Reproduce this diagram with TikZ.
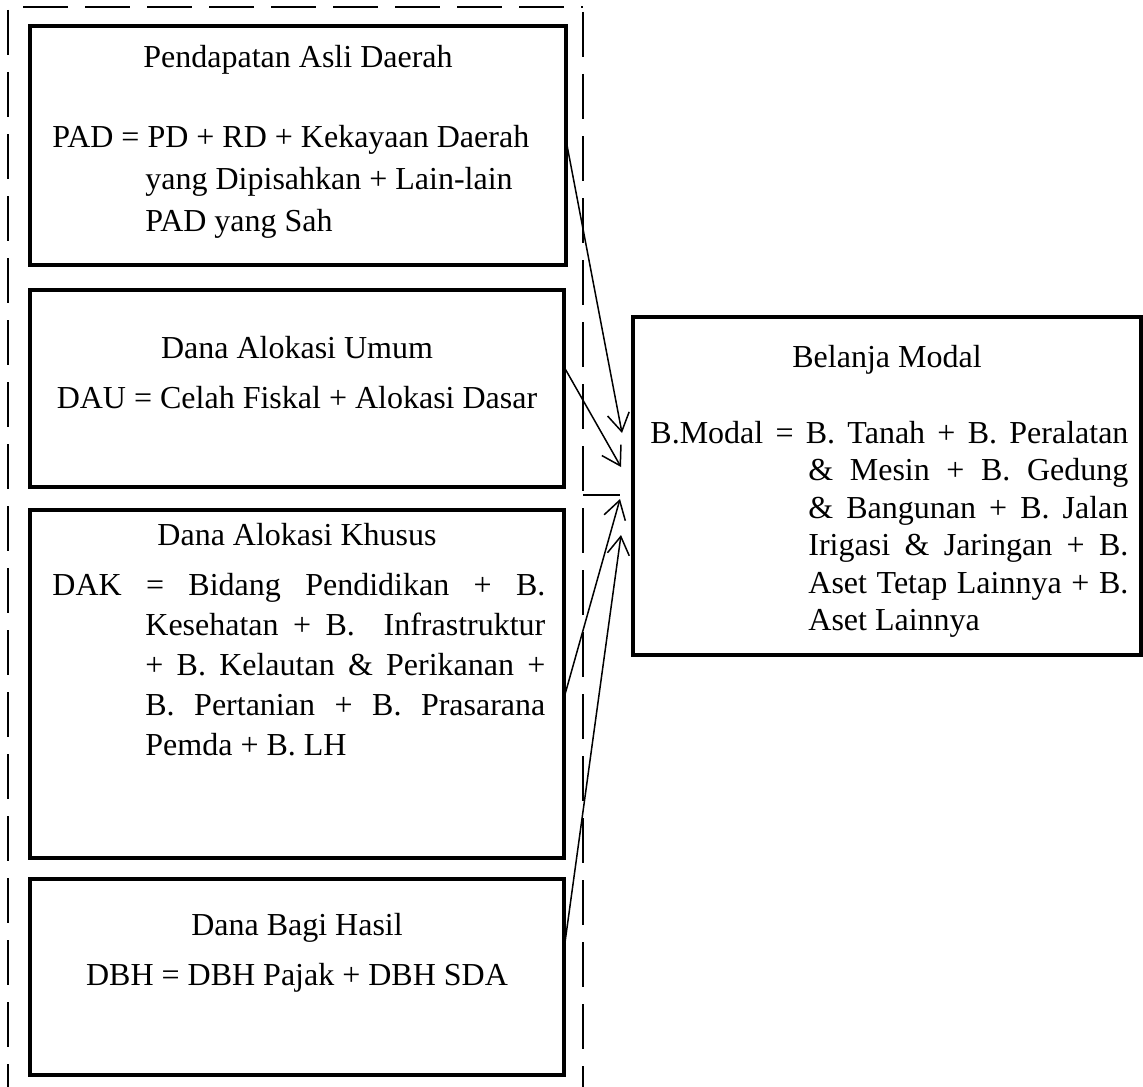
\documentclass[tikz,border=0pt]{standalone}
\usepackage{fontspec}
\setmainfont{Liberation Serif}
\usetikzlibrary{arrows.meta,calc}
\begin{document}
\begin{tikzpicture}[x=0.5pt,y=-0.5pt,
  box/.style={draw, line width=2pt, rectangle, inner sep=0pt, outer sep=0pt},
  lbl/.style={inner sep=0pt, anchor=base, font=\fontsize{16}{19.5}\selectfont},
  para/.style={inner sep=0pt, anchor=base west, font=\fontsize{16}{20}\selectfont},
  conn/.style={line width=0.75pt, -{Straight Barb[length=9pt,width=11pt,line width=0.75pt]}},
  thinline/.style={line width=0.75pt},
  frame/.style={line width=0.75pt, dash pattern=on 22.5pt off 8.5pt}]
\useasboundingbox (0,0) rectangle (1143,1086);
% dashed group frame
\begin{scope}
\clip (0,0) rectangle (1143,1086);
\draw[frame] (23,7) -- (583,7);
\draw[frame] (8,10) -- (8,1100);
\draw[frame] (583,12) -- (583,1100);
\end{scope}
% boxes
\node[box, minimum width=268pt, minimum height=119.5pt] (pad) at (298,145.5) {};
\node[box, minimum width=267pt, minimum height=98.5pt] (dau) at (297,388.5) {};
\node[box, minimum width=267pt, minimum height=174pt] (dak) at (297,684) {};
\node[box, minimum width=267pt, minimum height=98pt] (dbh) at (297,977) {};
\node[box, minimum width=254pt, minimum height=169pt] (bm) at (887,486) {};
% texts
\node[lbl] (padt) at (298,68) {Pendapatan Asli Daerah};
\node[para, font=\fontsize{16}{21}\selectfont] (padf) at (52,147) {\parbox[t]{250pt}{\raggedright\hangindent=46.5pt\hangafter=1 PAD = PD + RD + Kekayaan Daerah\break yang Dipisahkan + Lain-lain\break PAD yang Sah}};
\node[lbl] (daut) at (297,358) {Dana Alokasi Umum};
\node[lbl] (dauf) at (297,408) {DAU = Celah Fiskal + Alokasi Dasar};
\node[lbl] (dakt) at (297,545) {Dana Alokasi Khusus};
\node[para] (dakf) at (52,595) {\parbox[t]{246.5pt}{\tolerance=10000\hbadness=10000\hangindent=46.5pt\hangafter=1 DAK = Bidang Pendidikan + B.\linebreak Kesehatan + B.\ \ Infrastruktur\linebreak + B. Kelautan \& Perikanan +\linebreak B. Pertanian + B. Prasarana\linebreak Pemda + B. LH}};
\node[lbl] (dbht) at (297,935) {Dana Bagi Hasil};
\node[lbl] (dbhf) at (297,985) {DBH = DBH Pajak + DBH SDA};
\node[lbl] (bmt) at (887,367) {Belanja Modal};
\node[para, font=\fontsize{16}{18.75}\selectfont] (bmf) at (650,443) {\parbox[t]{239pt}{\tolerance=10000\hbadness=10000\hangindent=79pt\hangafter=1 B.Modal = B. Tanah + B. Peralatan\linebreak \& Mesin + B. Gedung\linebreak \& Bangunan + B. Jalan\linebreak Irigasi \& Jaringan + B.\linebreak Aset Tetap Lainnya + B.\linebreak Aset Lainnya}};
% connector end points
\coordinate (t1) at (622,433);
\coordinate (t2) at (621,467);
\coordinate (t3) at (620,499);
\coordinate (t4) at (621,535);
\coordinate (h1) at (583,495);
\coordinate (h2) at (620,495);
% connectors
\draw[conn] ($(pad.north east)!0.477!(pad.south east)$) -- (t1);
\draw[conn] ($(dau.north east)!0.39!(dau.south east)$) -- (t2);
\draw[conn] ($(dak.north east)!0.54!(dak.south east)$) -- (t3);
\draw[conn] ($(dbh.north east)!0.36!(dbh.south east)$) -- (t4);
\draw[thinline] (h1) -- (h2);
\end{tikzpicture}
\end{document}
